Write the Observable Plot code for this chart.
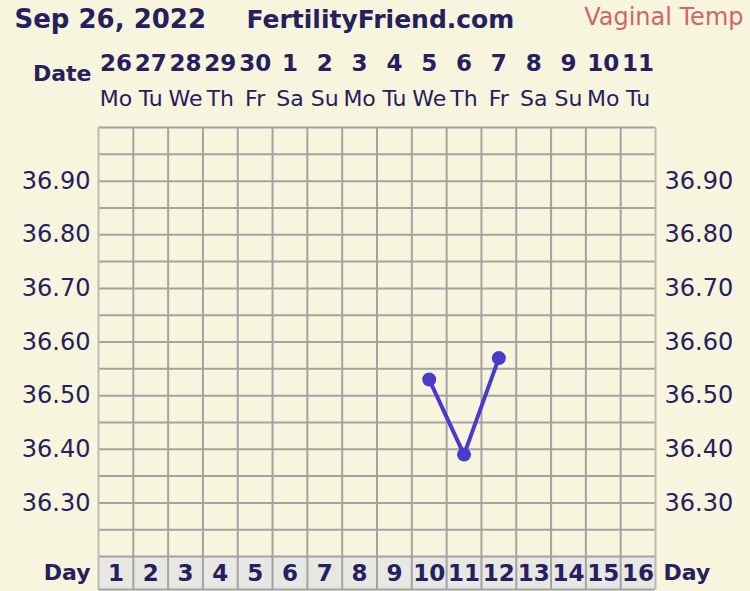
<!DOCTYPE html>
<html>
<head>
<meta charset="utf-8">
<script src="https://cdn.jsdelivr.net/npm/d3@7"></script>
<script src="https://cdn.jsdelivr.net/npm/@observablehq/plot@0.6"></script>
<style>
  html, body { margin: 0; padding: 0; background: #f7f5dd; }
  #chart { width: 750px; height: 591px; }
</style>
</head>
<body>
<div id="chart"></div>
<script>
// ---- data ----
const cycleDays = [1, 2, 3, 4, 5, 6, 7, 8, 9, 10, 11, 12, 13, 14, 15, 16];
const dateLabels = ["26", "27", "28", "29", "30", "1", "2", "3", "4", "5", "6", "7", "8", "9", "10", "11"];
const weekdayLabels = ["Mo", "Tu", "We", "Th", "Fr", "Sa", "Su", "Mo", "Tu", "We", "Th", "Fr", "Sa", "Su", "Mo", "Tu"];
const tempTicks = [36.30, 36.40, 36.50, 36.60, 36.70, 36.80, 36.90];
const tempDays = [10, 11, 12];
const temps = [36.53, 36.39, 36.57];
const titleDate = "Sep 26, 2022";
const titleSite = "FertilityFriend.com";
const titleKind = "Vaginal Temp";

// ---- layout ----
const navy = "#24215e";
const gridColor = "#a3a3a3";
const edgeColor = "#bcbcb6";
const yMin = 36.20, yMax = 37.00;
const dayRowDepth = 0.0615;           // height of the "Day" strip in degrees (below yMin)
const dayBottom = yMin - dayRowDepth;
const dayMid = yMin - dayRowDepth / 2;
const gridLevels = d3.range(yMin, yMax + 0.001, 0.05);
const boundaries = [cycleDays[0] - 0.5, ...cycleDays.map(d => d + 0.5)];
const innerBoundaries = boundaries.slice(1, -1);
const edgeBoundaries = [boundaries[0], boundaries[boundaries.length - 1]];
const points = tempDays.map((d, i) => ({day: d, temp: temps[i]}));
const idx = cycleDays.map((d, i) => i);

const numFont = {fill: navy, fontSize: 23, fontWeight: "bold", letterSpacing: "-2.2px"};
const labelFont = {fill: navy, fontSize: 22, fontWeight: "bold", letterSpacing: "-0.8px"};

const chart = Plot.plot({
  width: 750,
  height: 591,
  marginLeft: 98,
  marginRight: 95,
  marginTop: 127,
  marginBottom: 35,
  style: {background: "#f7f5dd", fontFamily: "DejaVu Sans, Verdana, sans-serif", overflow: "visible"},
  x: {type: "linear", domain: [cycleDays[0] - 0.5, cycleDays[cycleDays.length - 1] + 0.5], axis: null},
  y: {type: "linear", domain: [yMin, yMax], axis: null},
  marks: [
    // day strip cells
    Plot.rect(cycleDays, {x1: d => d - 0.5, x2: d => d + 0.5, y1: dayBottom, y2: yMin, fill: "#e7e7e3"}),
    // horizontal grid
    Plot.ruleY(gridLevels, {x1: boundaries[0], x2: boundaries[boundaries.length - 1], stroke: gridColor, strokeWidth: 2}),
    Plot.ruleY([dayBottom], {x1: boundaries[0], x2: boundaries[boundaries.length - 1], stroke: gridColor, strokeWidth: 2}),
    // vertical grid
    Plot.ruleX(innerBoundaries, {y1: dayBottom, y2: yMax, stroke: gridColor, strokeWidth: 2}),
    Plot.ruleX(edgeBoundaries, {y1: dayBottom, y2: yMax, stroke: edgeColor, strokeWidth: 2}),
    // day numbers
    Plot.text(idx, {x: i => cycleDays[i], y: dayMid, text: i => String(cycleDays[i]), ...numFont, dy: 1}),
    Plot.text(["Day"], {y: dayMid, frameAnchor: "left", textAnchor: "end", dx: -8, ...labelFont}),
    Plot.text(["Day"], {y: dayMid, frameAnchor: "right", textAnchor: "start", dx: 8, ...labelFont}),
    // date header
    Plot.text(idx, {x: i => cycleDays[i], text: i => dateLabels[i], frameAnchor: "top", lineAnchor: "middle", dy: -64, ...numFont}),
    Plot.text(idx, {x: i => cycleDays[i], text: i => weekdayLabels[i], frameAnchor: "top", lineAnchor: "middle", dy: -29, fill: navy, fontSize: 22, letterSpacing: "-1px"}),
    Plot.text(["Date"], {frameAnchor: "top-left", lineAnchor: "middle", textAnchor: "end", dx: -7, dy: -54, ...labelFont}),
    // temperature labels
    Plot.text(tempTicks, {y: d => d, text: d => d.toFixed(2), frameAnchor: "left", textAnchor: "end", dx: -8, fill: navy, fontSize: 24}),
    Plot.text(tempTicks, {y: d => d, text: d => d.toFixed(2), frameAnchor: "right", textAnchor: "start", dx: 9, fill: navy, fontSize: 24}),
    // titles
    Plot.text([titleDate], {frameAnchor: "top-left", lineAnchor: "middle", textAnchor: "start", dx: -84, dy: -108, fill: navy, fontSize: 26, fontWeight: "bold", letterSpacing: "-0.3px"}),
    Plot.text([titleSite], {frameAnchor: "top-left", lineAnchor: "middle", textAnchor: "start", dx: 148, dy: -108, fill: navy, fontSize: 25, fontWeight: "bold", letterSpacing: "-1.5px"}),
    Plot.text([titleKind], {frameAnchor: "top-right", lineAnchor: "middle", textAnchor: "end", dx: 88, dy: -110, fill: "#d26565", fontSize: 24}),
    // temperature line
    Plot.line(points, {x: "day", y: "temp", stroke: "#4a3ccb", strokeWidth: 4}),
    Plot.dot(points, {x: "day", y: "temp", r: 7, fill: "#4a3ccb", stroke: "none"})
  ]
});
document.getElementById("chart").appendChild(chart);
</script>
</body>
</html>
